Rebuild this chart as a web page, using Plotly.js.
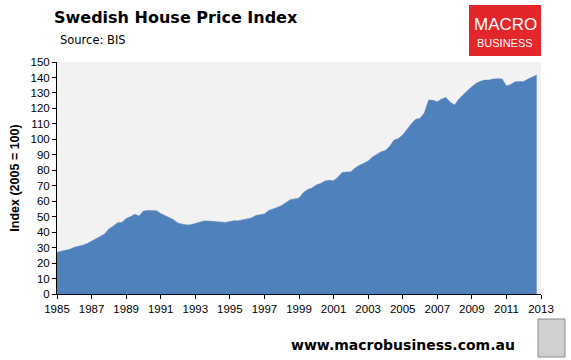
<!DOCTYPE html>
<html><head><meta charset="utf-8">
<script src="https://cdn.plot.ly/plotly-3.0.1.min.js"></script>
<style>html,body{margin:0;padding:0;background:#fff}#c{width:571px;height:360px}</style>
</head><body><div id="c"></div>
<script>
const startYear = 1985;
const quarterStep = 0.25;
const indexValues = [
 27.0, 27.6, 28.2, 28.9,
 30.2, 30.8, 31.6, 32.6,
 34.0, 35.6, 37.2, 38.8,
 42.0, 43.8, 46.0, 46.3,
 48.8, 50.0, 51.5, 50.5,
 53.6, 54.0, 54.0, 53.8,
 52.0, 50.8, 49.5, 48.0,
 45.8, 45.0, 44.6, 44.8,
 45.5, 46.3, 47.2, 47.2,
 46.8, 46.7, 46.5, 46.3,
 46.8, 47.4, 47.3, 47.8,
 48.4, 49.2, 50.8, 51.3,
 51.8, 54.0, 54.8, 56.0,
 57.3, 59.0, 61.0, 61.5,
 62.0, 65.5, 67.5, 68.5,
 70.5, 71.5, 73.0, 73.5,
 73.2, 75.5, 78.5, 78.8,
 79.0, 81.5, 83.3, 84.5,
 86.0, 88.5, 90.5, 92.0,
 92.8, 95.5, 99.5, 100.5,
 102.8, 106.5, 110.0, 113.0,
 113.5, 117.0, 125.4, 125.2,
 124.3, 126.0, 127.1, 124.0,
 122.2, 126.0, 129.0, 131.5,
 134.0, 136.2, 137.5, 138.3,
 138.3, 139.0, 139.2, 139.0,
 134.5, 135.5, 137.2, 137.2,
 137.4, 139.0, 140.5, 141.6
];
const xTickVals = [1985,1987,1989,1991,1993,1995,1997,1999,2001,2003,2005,2007,2009,2011,2013];
const xTickText = xTickVals.map(String);
const yTickVals = [0,10,20,30,40,50,60,70,80,90,100,110,120,130,140,150];

const xs = indexValues.map((v,i)=>startYear + i*quarterStep);

const trace = {
  x: xs, y: indexValues, type:'scatter', mode:'lines',
  fill:'tozeroy', fillcolor:'#4f81bd', line:{color:'#4f81bd', width:0.5},
  hoverinfo:'skip'
};
const tickFont = {family:'Liberation Sans, Arial, sans-serif', size:11.5, color:'#000'};
const layout = {
  width:571, height:360,
  margin:{l:57, r:30, t:62, b:66},
  paper_bgcolor:'#ffffff', plot_bgcolor:'#f2f2f2',
  showlegend:false,
  xaxis:{range:[1985,2013], tickvals:xTickVals, ticktext:xTickText, ticks:'outside', ticklen:4, tickwidth:1, tickcolor:'#000',
         showline:true, linecolor:'#000', linewidth:1, showgrid:false, zeroline:false, tickfont:tickFont, fixedrange:true},
  yaxis:{range:[0,150], tickvals:yTickVals, ticks:'outside', ticklen:4, tickwidth:1, tickcolor:'#000',
         showline:true, linecolor:'#000', linewidth:1, showgrid:false, zeroline:false, tickfont:tickFont, fixedrange:true,
         title:{text:'<b>Index (2005 = 100)</b>', font:{family:'Liberation Sans, Arial, sans-serif', size:12.5, color:'#000'}, standoff:8}},
  shapes:[
    {type:'rect', xref:'paper', yref:'paper', x0:(469-57)/484, x1:(541-57)/484, y0:(294-56)/232, y1:(294-5)/232,
     fillcolor:'#e3262a', line:{width:0}, layer:'above'},
    {type:'rect', xref:'paper', yref:'paper', x0:(538-57)/484, x1:(565-57)/484, y0:(294-357)/232, y1:(294-319)/232,
     fillcolor:'#cfcfcf', line:{width:1, color:'#888'}, layer:'above'}
  ],
  annotations:[
    {text:'<b>Swedish House Price Index</b>', xref:'paper', yref:'paper', x:(52-57)/484, y:(294-18)/232, xanchor:'left', yanchor:'middle',
     showarrow:false, font:{family:'DejaVu Sans, Verdana, sans-serif', size:16, color:'#000'}},
    {text:'Source: BIS', xref:'paper', yref:'paper', x:(58-57)/484, y:(294-40)/232, xanchor:'left', yanchor:'middle',
     showarrow:false, font:{family:'DejaVu Sans, Verdana, sans-serif', size:11.5, color:'#000'}},
    {text:'MACRO', xref:'paper', yref:'paper', x:(505-57)/484, y:(294-24)/232, xanchor:'center', yanchor:'middle',
     showarrow:false, font:{family:'Liberation Sans, Arial, sans-serif', size:17, color:'#fff'}},
    {text:'BUSINESS', xref:'paper', yref:'paper', x:(505-57)/484, y:(294-43)/232, xanchor:'center', yanchor:'middle',
     showarrow:false, font:{family:'Liberation Sans, Arial, sans-serif', size:11, color:'#fff'}},
    {text:'<b>www.macrobusiness.com.au</b>', xref:'paper', yref:'paper', x:(517-57)/484, y:(294-345)/232, xanchor:'right', yanchor:'middle',
     showarrow:false, font:{family:'DejaVu Sans, Verdana, sans-serif', size:14, color:'#000'}}
  ]
};
Plotly.newPlot('c',[trace],layout,{staticPlot:true, displayModeBar:false});
</script></body></html>
